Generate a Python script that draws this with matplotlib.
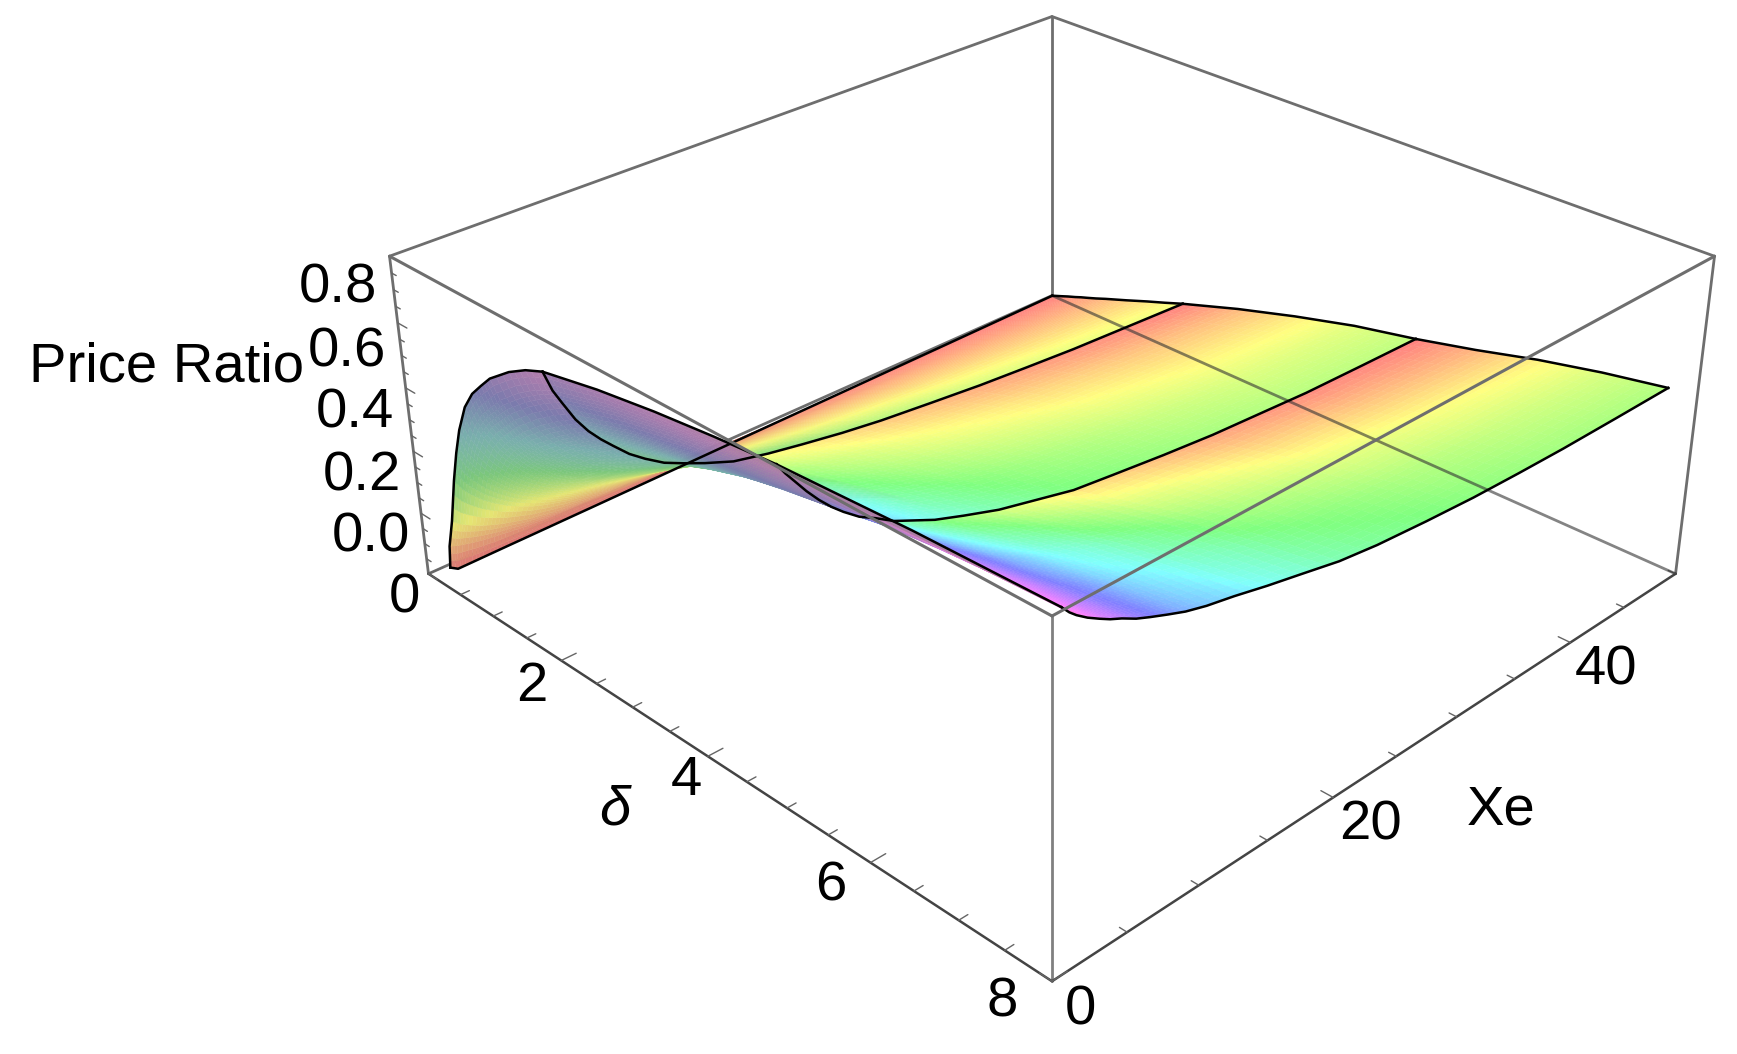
import numpy as np
import matplotlib
matplotlib.use("Agg")
import matplotlib.pyplot as plt
from matplotlib.colors import hsv_to_rgb
from mpl_toolkits.mplot3d.art3d import Poly3DCollection

plt.rcParams['font.family'] = ['Liberation Sans', 'DejaVu Sans']
W, H = 1737, 1054

# ---------- values ----------
xe_rows = [1, 1.5, 2, 2.75, 3.5, 4.25, 5, 6, 7, 8.25, 9.5, 11, 13, 15.5, 18, 21, 24, 28, 32, 36, 40, 45, 50]
delta_min = [.12, .119, .118, .116, .114, .112, .11, .108, .106, .103, .1, .097, .092, .086, .08, .073, .066, .057, .048, .038, .029, .017, .005]
delta_p1 = [.15, .24, .35, .44, .53, .66, .8, .95, 1.1, 1.4, 1.65, 1.9]
delta_p2 = [1.9, 2.65, 3.4, 4.15, 4.9]
delta_edge = [7.93, 7.93, 7.92, 7.91, 7.91, 7.9, 7.9, 7.89, 7.88, 7.87, 7.86, 7.85, 7.84, 7.82, 7.81, 7.8, 7.79, 7.775, 7.76, 7.745, 7.73, 7.715, 7.7]
frac_p3 = [0, .25, .5, .75, 1]
z_p1 = [
 [.015,.09,.185,.33,.43,.513,.60,.658,.70,.74,.795,.83,.855],
 [0,.081,.165,.292,.380,.453,.532,.586,.626,.665,.723,.761,.79],
 [0,.075,.151,.265,.344,.411,.484,.535,.574,.612,.671,.712,.745],
 [0,.067,.133,.231,.300,.358,.422,.469,.507,.543,.602,.644,.68],
 [0,.061,.119,.205,.266,.318,.375,.419,.455,.491,.549,.592,.63],
 [0,.056,.107,.182,.236,.282,.335,.376,.412,.446,.506,.550,.59],
 [0,.052,.098,.164,.211,.253,.301,.340,.375,.408,.468,.513,.555],
 [0,.046,.086,.143,.185,.221,.264,.300,.333,.365,.423,.468,.51],
 [0,.043,.078,.128,.164,.197,.236,.270,.301,.332,.389,.433,.475],
 [0,.039,.069,.113,.145,.174,.209,.240,.270,.299,.353,.396,.437],
 [0,.036,.064,.102,.131,.157,.189,.219,.247,.275,.328,.369,.41],
 [0,.033,.057,.091,.116,.139,.168,.196,.223,.249,.300,.340,.38],
 [0,.029,.050,.079,.101,.121,.147,.172,.197,.221,.269,.307,.345],
 [0,.027,.045,.070,.090,.108,.132,.155,.178,.202,.247,.284,.32],
 [0,.025,.042,.064,.081,.097,.119,.141,.164,.186,.229,.265,.30],
 [0,.023,.038,.057,.073,.087,.107,.128,.149,.170,.211,.244,.278],
 [0,.021,.035,.052,.066,.079,.098,.117,.137,.157,.196,.228,.26],
 [0,.019,.032,.047,.060,.072,.089,.107,.126,.145,.182,.212,.242],
 [0,.018,.029,.043,.055,.066,.081,.098,.115,.133,.168,.196,.225],
 [0,.017,.027,.040,.051,.061,.076,.092,.108,.125,.158,.185,.212],
 [0,.016,.026,.038,.047,.057,.071,.086,.101,.117,.148,.174,.20],
 [0,.015,.024,.035,.044,.053,.066,.081,.095,.110,.140,.165,.19],
 [0,.014,.023,.033,.042,.050,.062,.076,.090,.104,.133,.156,.18]]
z_p2 = [
 [.855,.892,.92,.942,.96],
 [.79,.842,.876,.903,.925],
 [.745,.798,.838,.87,.895],
 [.68,.74,.785,.82,.85],
 [.63,.693,.742,.779,.81],
 [.59,.654,.705,.745,.775],
 [.555,.62,.673,.712,.745],
 [.51,.58,.635,.68,.71],
 [.475,.545,.603,.649,.685],
 [.437,.508,.566,.615,.65],
 [.41,.48,.54,.59,.625],
 [.38,.45,.51,.56,.595],
 [.345,.414,.47,.52,.565],
 [.32,.385,.44,.49,.53],
 [.30,.364,.415,.463,.505],
 [.278,.34,.392,.44,.475],
 [.26,.322,.374,.422,.46],
 [.242,.303,.356,.404,.441],
 [.225,.285,.338,.387,.425],
 [.212,.273,.326,.376,.414],
 [.20,.262,.315,.365,.405],
 [.19,.253,.309,.36,.40],
 [.18,.245,.303,.355,.396]]
z_p3 = [
 [.96,.97,.98,.985,.99],
 [.925,.937,.948,.957,.965],
 [.895,.91,.925,.937,.945],
 [.85,.87,.89,.905,.92],
 [.81,.84,.865,.885,.90],
 [.775,.81,.84,.865,.88],
 [.745,.785,.82,.845,.865],
 [.71,.755,.795,.82,.84],
 [.685,.73,.77,.80,.82],
 [.65,.70,.745,.775,.797],
 [.625,.675,.72,.75,.775],
 [.595,.647,.695,.728,.755],
 [.565,.62,.67,.705,.735],
 [.53,.585,.635,.672,.705],
 [.505,.56,.61,.65,.68],
 [.475,.53,.58,.62,.65],
 [.46,.515,.56,.60,.63],
 [.441,.495,.542,.582,.611],
 [.425,.475,.525,.565,.595],
 [.415,.465,.515,.555,.584],
 [.405,.455,.505,.545,.575],
 [.40,.447,.497,.537,.569],
 [.396,.44,.489,.53,.564]]
delta_major = [0, 2, 4, 6, 8]
xe_major = [0, 20, 40]
z_major = [0.0, 0.2, 0.4, 0.6, 0.8]

# ---------- figure and camera ----------
elev, lf, za, cx, cy, s = 28.93, -0.884, 0.399, 1034.5, 437.3, 1296.0
fig = plt.figure(figsize=(W/100, H/100), dpi=100, facecolor='white')
ax = fig.add_axes([(cx-s/2)/W, 1-(cy+s/2)/H, s/W, s/H], projection='3d', computed_zorder=False)
ax.set_axis_off()
ax.set_xlim(0, 8); ax.set_ylim(0, 50); ax.set_zlim(0, 1)
ax.view_init(elev=elev, azim=-45)
ax.set_box_aspect((1, 1, za))
ax.set_proj_type('persp', focal_length=np.exp(lf))

xe = np.array(xe_rows, float)
n_rows = len(xe)
D1 = np.column_stack([delta_min, np.tile(np.array(delta_p1), (n_rows, 1))])
D2 = np.tile(np.array(delta_p2, float), (n_rows, 1))
D3 = np.array([delta_p2[-1] + np.array(frac_p3)*(e-delta_p2[-1]) for e in delta_edge])
Z1, Z2, Z3 = np.array(z_p1), np.array(z_p2), np.array(z_p3)

# Cells of the read table are split only so that each one can be painted with a
# smooth colour ramp (Gouraud-like); the split stays flat inside every read cell.
def split(A, row_steps, col_steps):
    A = np.asarray(A, float)
    ri = np.concatenate([np.linspace(i, i+1, m, endpoint=False) for i, m in enumerate(row_steps)] + [[A.shape[0]-1]])
    ci = np.concatenate([np.arange(col_steps)/col_steps + j for j in range(A.shape[1]-1)] + [[A.shape[1]-1]])
    r0 = np.minimum(ri.astype(int), A.shape[0]-2); c0 = np.minimum(ci.astype(int), A.shape[1]-2)
    fr = (ri-r0)[:, None]; fc = (ci-c0)[None, :]
    return (A[np.ix_(r0, c0)]*(1-fr)*(1-fc) + A[np.ix_(r0+1, c0)]*fr*(1-fc)
            + A[np.ix_(r0, c0+1)]*(1-fr)*fc + A[np.ix_(r0+1, c0+1)]*fr*fc)

row_steps = [int(np.clip(np.ceil(g), 3, 8)) for g in np.diff(xe)]
v = np.array([np.sin(np.pi/4)*np.cos(np.radians(elev)), -np.sin(np.pi/4)*np.cos(np.radians(elev)), np.sin(np.radians(elev))])
hs = [0, .17, .33, .5, .85]
polys, cols = [], []
for D, Z, zmin, k, nc, off, wid in [(D1, Z1, 0.0, 1.0, 3, .05, .3), (D2, Z2, 0.18, 1.15, 8, .1, .25), (D3, Z3, 0.396, 1.6, 8, .2, .2)]:
    Y = np.tile(xe[:, None], (1, D.shape[1]))
    Dr, Yr, Zr = split(D, row_steps, nc), split(Y, row_steps, nc), split(Z, row_steps, nc)
    for i in range(Dr.shape[0]-1):
        for j in range(Dr.shape[1]-1):
            idx = [(i, j), (i, j+1), (i+1, j+1), (i+1, j)]
            polys.append([(Dr[a], Yr[a], Zr[a]) for a in idx])
            zm = np.mean([Zr[a] for a in idx])
            a = np.array([(Dr[i, j+1]-Dr[i, j])/8, 0, (Zr[i, j+1]-Zr[i, j])*za])
            b = np.array([(Dr[i+1, j]-Dr[i, j])/8, (Yr[i+1, j]-Yr[i, j])/50, (Zr[i+1, j]-Zr[i, j])*za])
            nrm = np.cross(a, b); nrm = nrm/np.linalg.norm(nrm)
            t = np.clip((nrm@v+off)/wid, 0, 1); t = t*t*(3-2*t)
            h = min(max(k*(zm-zmin), 0), 0.87)
            dark_v = np.interp(h, hs, [.86, .9, .78, .68, .68])
            dark_s = np.interp(h, hs, [.47, .5, .38, .3, .28])
            cols.append(hsv_to_rgb([h, dark_s+(0.5-dark_s)*t, dark_v+(1-dark_v)*t]))
pc = Poly3DCollection(polys, facecolors=cols, edgecolors=cols, linewidths=0.3, zorder=1)
ax.add_collection3d(pc)
pc.set_clip_on(False)

def seg(a, b, **kw):
    ax.plot([a[0], b[0]], [a[1], b[1]], [a[2], b[2]], solid_capstyle='round', clip_on=False, **kw)

GR = '#6e6e6e'
# box edges behind the surface
seg((0, 50, 0), (8, 50, 0), color='#333333', alpha=.6, lw=2, zorder=2)
for p, q in [((0, 50, 0), (0, 0, 0)), ((0, 50, 0), (0, 50, 1)), ((0, 0, 1), (0, 50, 1)),
             ((8, 50, 1), (0, 50, 1)), ((0, 0, 0), (0, 0, 1)), ((8, 50, 0), (8, 50, 1))]:
    seg(p, q, color=GR, lw=2, zorder=0.5)
seg((8, 0, 0), (8, 0, 1), color='#808080', lw=2, zorder=0.5)
seg((0, 0, 0), (8, 0, 0), color='#444444', lw=1.8, zorder=0.5)
seg((8, 0, 0), (8, 50, 0), color='#444444', lw=1.8, zorder=0.5)
# surface outlines
lk = dict(color='black', lw=1.8, zorder=3, clip_on=False)
for D, Z in [(D1, Z1), (D2, Z2), (D3, Z3)]:
    ax.plot(D[0], [xe[0]]*D.shape[1], Z[0], **lk)
    ax.plot(D[-1], [xe[-1]]*D.shape[1], Z[-1], **lk)
    ax.plot(D[:, 0], xe, Z[:, 0], **lk)
ax.plot(D3[:, -1], xe, Z3[:, -1], **lk)
# box edges in front of the surface
seg((0, 0, 1), (8, 0, 1), color=GR, lw=2.2, zorder=4)
seg((8, 0, 1), (8, 50, 1), color=GR, lw=2.2, zorder=4)

# ticks
tk = dict(color='#666666', lw=1.0, zorder=0.6)
for d in np.arange(0, 8.01, 0.5):
    seg((d, 0, 0), (d, 1.0 if d in delta_major else 0.6, 0), **tk)
for x in np.arange(0, 50.01, 5):
    seg((8, x, 0), (8-(0.13 if x in xe_major else 0.08), x, 0), **tk)
for z in np.arange(0, 0.96, 0.05):
    seg((0, 0, z), (0.14 if min(abs(z-m) for m in z_major) < 1e-6 else 0.07, 0, z), **tk)

FS = 40.5
def lab(t, xs, ys, **kw):
    fig.text(xs*1.1078/W, 1-ys*1.1078/H, t, ha='center', va='center', fontsize=FS, color='black', **kw)
for t, (a, b) in zip(['%.1f' % z for z in z_major], [(335, 485), (327, 430), (320, 373), (313, 318), (305, 260)]):
    lab(t, a, b)
for t, (a, b) in zip([str(d) for d in delta_major], [(365, 540), (480, 620), (620, 705), (750, 800), (905, 905)]):
    lab(t, a, b)
for t, (a, b) in zip([str(x) for x in xe_major], [(975, 912), (1237, 745), (1450, 605)]):
    lab(t, a, b)
lab('Price Ratio', 150, 332)
lab('Xe', 1355, 732)
lab('δ', 555, 732, style='italic')
fig.savefig('out.png', dpi=100)
